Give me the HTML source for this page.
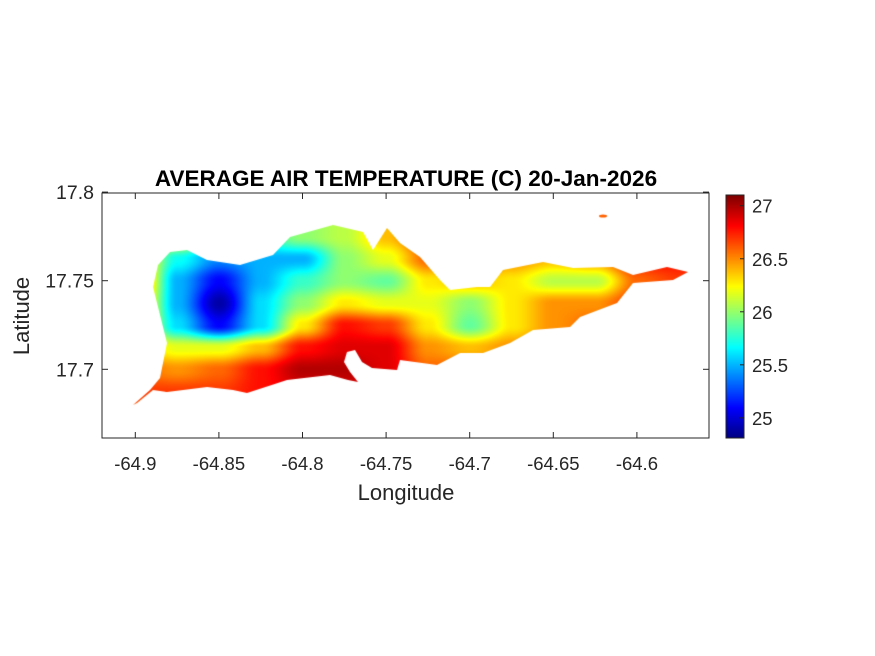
<!DOCTYPE html>
<html><head><meta charset="utf-8"><style>
body{margin:0;background:#fff;}
#wrap{position:relative;width:875px;height:656px;overflow:hidden;font-family:"Liberation Sans",sans-serif;}
svg{position:absolute;left:0;top:0;}
</style></head><body>
<div id="wrap">
<canvas id="cv" width="875" height="656" style="position:absolute;left:0;top:0"></canvas>
<svg id="sv" width="875" height="656"></svg>
</div>
<script>
// Data
const lonGrid=[-64.9,-64.875,-64.85,-64.825,-64.8,-64.775,-64.75,-64.725,-64.7,-64.675,-64.65,-64.625,-64.6,-64.575];
const latGrid=[17.775,17.7625,17.75,17.7375,17.725,17.7125,17.7,17.6875,17.675];
const temps=[
[26.6,26.4,25.9,25.8,26.0,26.1,26.4,26.7,26.6,26.6,26.6,26.6,26.7,26.7],
[26.5,25.7,25.4,25.5,25.5,26.0,26.2,26.6,26.6,26.5,26.4,26.5,26.8,26.8],
[26.7,25.5,25.1,25.5,25.8,26.0,25.9,26.3,26.4,26.3,26.1,26.1,26.6,26.7],
[26.6,25.5,24.9,25.6,26.0,26.3,26.2,26.2,26.0,26.3,26.5,26.5,26.7,26.7],
[26.5,25.6,25.1,25.6,26.3,26.8,26.7,26.3,25.9,26.3,26.5,26.6,26.7,26.7],
[26.4,26.2,26.2,26.4,26.8,26.9,26.9,26.5,26.4,26.5,26.6,26.6,26.7,26.7],
[26.6,26.5,26.6,26.8,27.0,27.0,26.9,26.6,26.6,26.6,26.6,26.6,26.7,26.7],
[26.7,26.7,26.7,26.8,26.9,26.9,26.8,26.6,26.6,26.6,26.6,26.6,26.6,26.6],
[26.6,26.6,26.6,26.7,26.8,26.8,26.7,26.6,26.6,26.6,26.6,26.6,26.6,26.6]];
const xTicks=[-64.9,-64.85,-64.8,-64.75,-64.7,-64.65,-64.6];
const xTickLabels=["-64.9","-64.85","-64.8","-64.75","-64.7","-64.65","-64.6"];
const yTicks=[17.8,17.75,17.7];
const yTickLabels=["17.8","17.75","17.7"];
const cTicks=[27,26.5,26,25.5,25];
const cTickLabels=["27","26.5","26","25.5","25"];
const cMin=24.81,cMax=27.12;

// axes
const L=102,T=193,R=709,B=438;
const X=lon=>135.3+(lon+64.9)/0.05*83.6;
const Y=lat=>369.3-(lat-17.7)/0.05*88.6;
const CY=v=>438-(v-cMin)/(cMax-cMin)*245;

function jet(t){t=Math.max(0,Math.min(1,t));
 const f=(a)=>Math.max(0,Math.min(1,1.5-Math.abs(4*t-a)));
 return [f(3)*255,f(2)*255,f(1)*255];}

// island outline (pixel)
const island=[[133,405],[150,390],[160,378],[167,343],[153,287],[158,265],[170,252],[187,250],[207,260],[240,265],[273,255],[290,237],[333,225],[363,232],[373,250],[387,228],[400,243],[420,257],[440,280],[450,290],[477,287],[490,287],[503,270],[543,262],[573,268],[613,267],[633,275],[667,267],[688,272],[673,280],[633,283],[617,303],[580,317],[570,327],[533,330],[510,343],[483,353],[460,353],[437,365],[400,360],[397,370],[372,368],[362,362],[355,350],[347,352],[344,362],[350,372],[358,382],[348,380],[330,375],[287,380],[247,393],[233,390],[207,387],[167,392],[153,390],[137,403]];

const cv=document.getElementById('cv');const ctx=cv.getContext('2d');
const img=ctx.createImageData(875,656);
const gx=lonGrid.map(X), gy=latGrid.map(Y);
function val(px,py){
 let i=0;while(i<gx.length-2&&px>gx[i+1])i++;
 let j=0;while(j<gy.length-2&&py>gy[j+1])j++;
 let u=(px-gx[i])/(gx[i+1]-gx[i]),v=(py-gy[j])/(gy[j+1]-gy[j]);
 u=Math.max(0,Math.min(1,u));v=Math.max(0,Math.min(1,v));
 u=u*u*(3-2*u);v=v*v*(3-2*v);
 return temps[j][i]*(1-u)*(1-v)+temps[j][i+1]*u*(1-v)+temps[j+1][i]*(1-u)*v+temps[j+1][i+1]*u*v;}
for(let py=T;py<B;py++)for(let px=L;px<R;px++){
 const c=jet((val(px,py)-cMin)/(cMax-cMin));const k=(py*875+px)*4;
 img.data[k]=c[0];img.data[k+1]=c[1];img.data[k+2]=c[2];img.data[k+3]=255;}
const off=document.createElement('canvas');off.width=875;off.height=656;
off.getContext('2d').putImageData(img,0,0);
ctx.save();ctx.beginPath();island.forEach((p,i)=>i?ctx.lineTo(p[0],p[1]):ctx.moveTo(p[0],p[1]));ctx.closePath();
ctx.ellipse(603,216,4,1.5,0,0,Math.PI*2);
ctx.clip();ctx.drawImage(off,0,0);ctx.restore();
// colorbar
for(let py=195;py<438;py++){const c=jet((438-py)/243);ctx.fillStyle=`rgb(${c[0]|0},${c[1]|0},${c[2]|0})`;ctx.fillRect(726,py,18,1);}

const sv=document.getElementById('sv');const NS='http://www.w3.org/2000/svg';
function el(t,a,txt){const e=document.createElementNS(NS,t);for(const k in a)e.setAttribute(k,a[k]);if(txt!==undefined)e.textContent=txt;sv.appendChild(e);return e;}
let e=el('rect',{x:L,y:T,width:R-L,height:B-T,fill:'none',stroke:'#262626','stroke-width':1});


xTicks.forEach((v,i)=>{const x=X(v);
 el('line',{x1:x,y1:T,x2:x,y2:T+6,stroke:'#262626'});el('line',{x1:x,y1:B,x2:x,y2:B-6,stroke:'#262626'});
 const t=el('text',{x:x,y:470,'font-size':18.5,'text-anchor':'middle',fill:'#262626'},xTickLabels[i]);
 
 });
yTicks.forEach((v,i)=>{const y=Y(v);
 el('line',{x1:L,y1:y,x2:L+6,y2:y,stroke:'#262626'});el('line',{x1:R,y1:y,x2:R-6,y2:y,stroke:'#262626'});
 const t=el('text',{x:94,y:y+7,'font-size':19.5,'text-anchor':'end',fill:'#262626'},yTickLabels[i]);
 
 });
e=el('rect',{x:726,y:195,width:18,height:243,fill:'none',stroke:'#262626'});


cTicks.forEach((v,i)=>{const y=CY(v);
 el('line',{x1:740,y1:y,x2:744,y2:y,stroke:'#262626'});
 const t=el('text',{x:752,y:y+7,'font-size':18.5,fill:'#262626'},cTickLabels[i]);
 
 });
e=el('text',{x:406,y:186,'font-size':22.5,'font-weight':'bold','text-anchor':'middle',fill:'#000'},'AVERAGE AIR TEMPERATURE (C) 20-Jan-2026');


e=el('text',{x:406,y:500,'font-size':22,'text-anchor':'middle',fill:'#262626'},'Longitude');


e=el('text',{x:0,y:0,'font-size':22,'text-anchor':'middle',fill:'#262626',transform:'translate(29,316) rotate(-90)'},'Latitude');


</script>
</body></html>
